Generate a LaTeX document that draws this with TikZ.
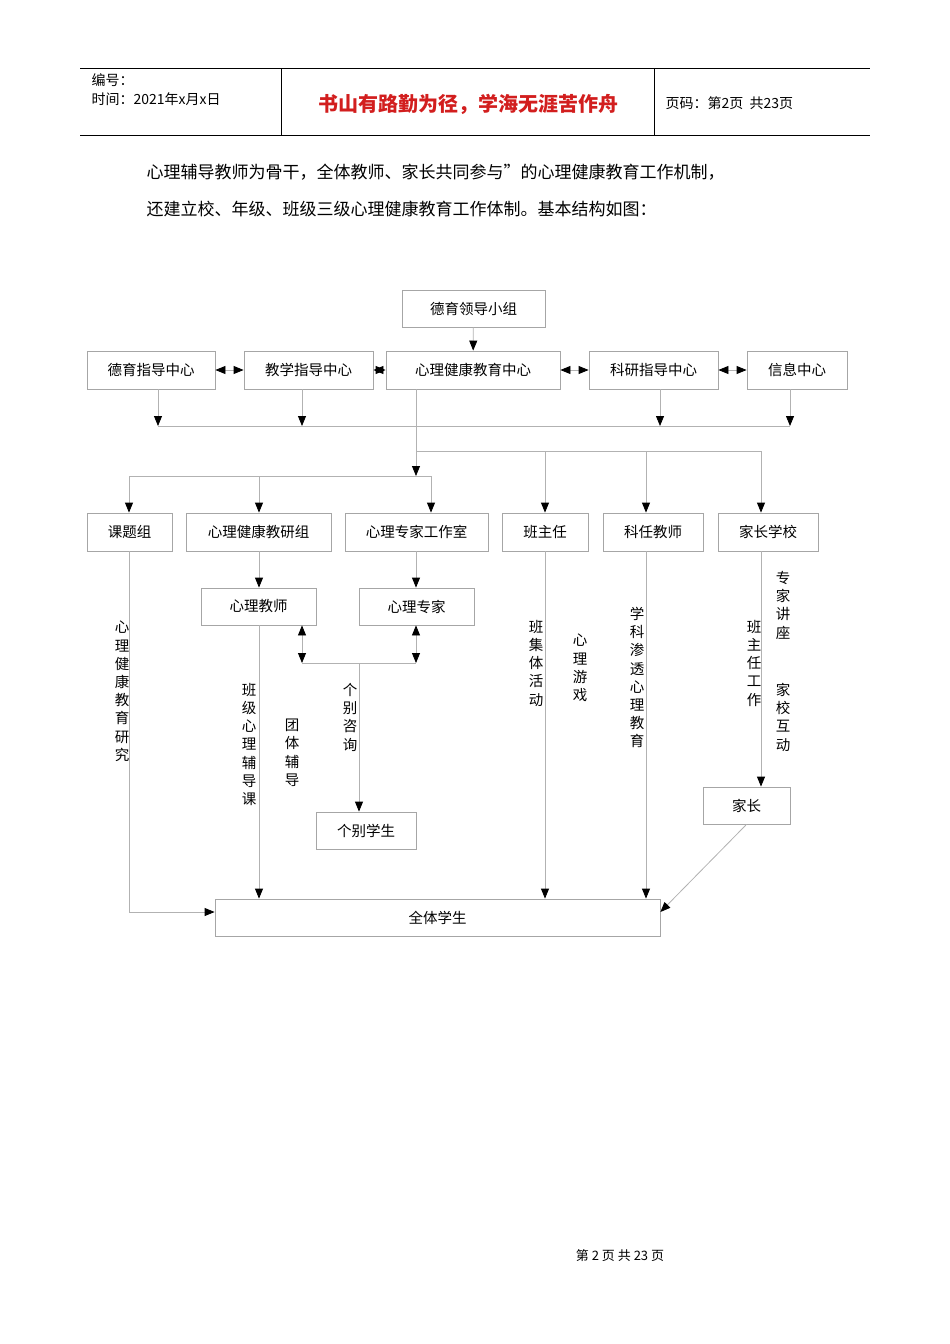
\documentclass[tikz,border=0pt]{standalone}
\usepackage{fontspec}
\setmainfont{Liberation Sans}
\newfontfamily\cjk{Noto Sans CJK SC}
\usetikzlibrary{arrows.meta}
\begin{document}
\begin{tikzpicture}[x=1pt,y=-1pt,
  bx/.style={draw=gray!70,line width=0.8pt,inner sep=0pt,font=\cjk\fontsize{14.5}{17}\selectfont},
  ln/.style={draw=gray!60,line width=0.8pt},
  ar/.style={ln,-{Triangle[length=10pt,width=8pt,color=black]}},
  dar/.style={ln,{Triangle[length=10pt,width=8pt,color=black]}-{Triangle[length=10pt,width=8pt,color=black]}},
  vt/.style={font=\cjk\fontsize{14.5}{18.2}\selectfont,align=center,inner sep=0pt,anchor=north}]
\useasboundingbox (0,0) rectangle (950,1344);
% header
\draw[line width=0.6pt] (80,68) -- (870,68) (80,135) -- (870,135) (281,68) -- (281,135) (654,68) -- (654,135);
\node[anchor=west,font=\cjk\fontsize{14}{16}\selectfont] (h1) at (88,80) {编号：};
\node[anchor=west,font=\cjk\fontsize{14}{16}\selectfont] (h2) at (88,99) {时间：2021年x月x日};
\node[font=\cjk\bfseries\fontsize{20}{22}\selectfont,text={rgb,255:red,210;green,30;blue,30}] (h3) at (468,104) {书山有路勤为径，学海无涯苦作舟};
\node[anchor=west,font=\cjk\fontsize{14}{16}\selectfont] (h4) at (662,103) {页码：第2页\ \ 共23页};
\node[anchor=west,font=\cjk\fontsize{17}{20}\selectfont] (t1) at (143,172) {心理辅导教师为骨干，全体教师、家长共同参与”的心理健康教育工作机制，};
\node[anchor=west,font=\cjk\fontsize{17}{20}\selectfont] (t2) at (143,209) {还建立校、年级、班级三级心理健康教育工作体制。基本结构如图：};
\node[font=\cjk\fontsize{13}{15}\selectfont] (ft) at (620,1256) {第 2 页 共 23 页};
% boxes
\node[bx,minimum width=143,minimum height=37] (ld) at (473.5,308.5) {德育领导小组};
\node[bx,minimum width=128,minimum height=38] (a1) at (151,370) {德育指导中心};
\node[bx,minimum width=129,minimum height=38] (a2) at (308.5,370) {教学指导中心};
\node[bx,minimum width=174,minimum height=38] (a3) at (473,370) {心理健康教育中心};
\node[bx,minimum width=129,minimum height=38] (a4) at (653.5,370) {科研指导中心};
\node[bx,minimum width=100,minimum height=38] (a5) at (797,370) {信息中心};
\node[bx,minimum width=85,minimum height=38] (b1) at (129.5,532) {课题组};
\node[bx,minimum width=145,minimum height=38] (b2) at (258.5,532) {心理健康教研组};
\node[bx,minimum width=143,minimum height=38] (b3) at (416.5,532) {心理专家工作室};
\node[bx,minimum width=86,minimum height=38] (b4) at (545,532) {班主任};
\node[bx,minimum width=100,minimum height=38] (b5) at (653,532) {科任教师};
\node[bx,minimum width=100,minimum height=38] (b6) at (768,532) {家长学校};
\node[bx,minimum width=115,minimum height=37] (c1) at (258.5,606.5) {心理教师};
\node[bx,minimum width=115,minimum height=37] (c2) at (416.5,606.5) {心理专家};
\node[bx,minimum width=100,minimum height=37] (c3) at (366,830.5) {个别学生};
\node[bx,minimum width=87,minimum height=37] (c4) at (746.5,805.5) {家长};
\node[bx,minimum width=445,minimum height=37] (all) at (437.5,917.5) {全体学生};
% coordinates
\coordinate (j1) at (416,426);
\coordinate (j2) at (416,476);
\coordinate (j3) at (416,451);
\coordinate (j4) at (359,663);
% connectors top
\draw[ar] (ld) -- (a3);
\draw[dar] (a1) -- (a2);
\draw[dar] (a2) -- (a3);
\draw[dar] (a3) -- (a4);
\draw[dar] (a4) -- (a5);
\draw[ln] (158,426) -- (790,426);
\draw[ar] (a1.south -| 158,0) -- (158,426);
\draw[ar] (a2.south -| 302,0) -- (302,426);
\draw[ar] (a4.south -| 660,0) -- (660,426);
\draw[ar] (a5.south -| 790,0) -- (790,426);
\draw[ar] (a3.south -| j1) -- (j2);
\draw[ln] (129,476) -- (431,476);
\draw[ln] (j3) -- (761,451);
\draw[ar] (129,476) -- (b1.north -| 129,0);
\draw[ar] (259,476) -- (b2.north -| 259,0);
\draw[ar] (431,476) -- (b3.north -| 431,0);
\draw[ar] (545,451) -- (b4);
\draw[ar] (646,451) -- (b5.north -| 646,0);
\draw[ar] (761,451) -- (b6.north -| 761,0);
% middle
\draw[ar] (b2.south -| 259,0) -- (c1.north -| 259,0);
\draw[ar] (b3.south -| 416,0) -- (c2.north -| 416,0);
\draw[dar] (c1.south -| 302,0) -- (302,663);
\draw[dar] (c2.south -| 416,0) -- (416,663);
\draw[ln] (302,663) -- (416,663);
\draw[ar] (j4) -- (c3.north -| j4);
\draw[ar] (b1.south -| 129,0) -- (129,912) -- (all.west |- 0,912);
\draw[ar] (c1.south -| 259,0) -- (all.north -| 259,0);
\draw[ar] (b4) -- (all.north -| 545,0);
\draw[ar] (b5.south -| 646,0) -- (all.north -| 646,0);
\draw[ar] (b6.south -| 761,0) -- (c4.north -| 761,0);
\draw[ar] (c4.south) -- (all.east |- 0,912);
% vertical labels
\node[vt] (v1) at (122,621) {心\\理\\健\\康\\教\\育\\研\\究};
\node[vt] (v2) at (249,683) {班\\级\\心\\理\\辅\\导\\课};
\node[vt] (v3) at (292,719) {团\\体\\辅\\导};
\node[vt] (v4) at (350,683) {个\\别\\咨\\询};
\node[vt] (v5) at (536,620) {班\\集\\体\\活\\动};
\node[vt] (v6) at (580,634) {心\\理\\游\\戏};
\node[vt] (v7) at (637,607) {学\\科\\渗\\透\\心\\理\\教\\育};
\node[vt] (v8) at (754,620) {班\\主\\任\\工\\作};
\node[vt] (v9) at (783,571) {专\\家\\讲\\座};
\node[vt] (v10) at (783,683) {家\\校\\互\\动};
\end{tikzpicture}
\end{document}
